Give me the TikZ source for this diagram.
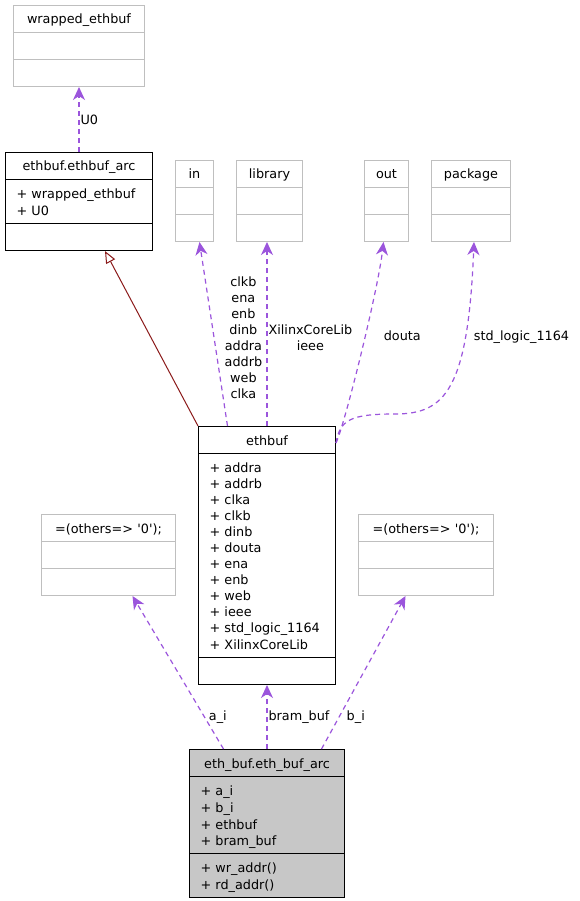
\documentclass[tikz,border=0pt]{standalone}
\usepackage{fontspec}
\setmainfont{DejaVu Sans}
\usetikzlibrary{shapes.multipart,arrows.meta}

\definecolor{deppurple}{RGB}{155,85,220}
\definecolor{inhred}{RGB}{139,26,26}
\newcommand\cstrut{\rule[-3pt]{0pt}{16pt}}
\newcommand\classfont{\fontsize{12.8pt}{16pt}\selectfont}
\newcommand\members{\leftskip=6pt\relax}

\begin{document}
\begin{tikzpicture} [
    x=1pt, y=-1pt,
    classbox/.style = { rectangle split, rectangle split parts=3, draw=black,
                        line width=1pt, fill=white, anchor=north west,
                        inner xsep=5pt, inner ysep=5pt, font=\classfont,
                        text width=#1, align=left },
    extbox/.style   = { classbox=#1, draw=black!25 },
    dep/.style      = { draw=deppurple, line width=1.2pt, dash pattern=on 5pt off 4pt,
                        -{Stealth[length=13pt, width=12pt, inset=4pt]} },
    inherit/.style  = { draw=inhred, line width=1pt,
                        -{Triangle[open, length=12pt, width=10pt, fill=white]} },
    elabel/.style   = { font=\classfont, inner sep=1pt, align=center },
  ]
  \useasboundingbox (0,0) rectangle (579,901);

  % Define the class boxes
  \node[extbox=121pt] (wrapped) at (13,5)
    {\centering\cstrut wrapped\_ethbuf\par\nodepart{second}\cstrut\nodepart{third}\cstrut};
  \node[classbox=137pt] (ethbufarc) at (5,152)
    {\centering\cstrut ethbuf.ethbuf\_arc\par
     \nodepart{second}\members\cstrut+ wrapped\_ethbuf\\ \cstrut+ U0\par
     \nodepart{third}\cstrut};
  \node[extbox=28pt] (in) at (175,160)
    {\centering\cstrut in\par\nodepart{second}\cstrut\nodepart{third}\cstrut};
  \node[extbox=56pt] (library) at (236,160)
    {\centering\cstrut library\par\nodepart{second}\cstrut\nodepart{third}\cstrut};
  \node[extbox=34pt] (out) at (364,160)
    {\centering\cstrut out\par\nodepart{second}\cstrut\nodepart{third}\cstrut};
  \node[extbox=69pt] (package) at (431,160)
    {\centering\cstrut package\par\nodepart{second}\cstrut\nodepart{third}\cstrut};
  \node[classbox=127pt] (ethbuf) at (198,426)
    {\centering\cstrut ethbuf\par
     \nodepart{second}\members\cstrut+ addra\\ \cstrut+ addrb\\ \cstrut+ clka\\
       \cstrut+ clkb\\ \cstrut+ dinb\\ \cstrut+ douta\\ \cstrut+ ena\\ \cstrut+ enb\\
       \cstrut+ web\\ \cstrut+ ieee\\ \cstrut+ std\_logic\_1164\\ \cstrut+ XilinxCoreLib\par
     \nodepart{third}\cstrut};
  \node[extbox=124pt] (othersa) at (41,514)
    {\centering\cstrut =(others=> \textquotesingle0\textquotesingle);\par\nodepart{second}\cstrut\nodepart{third}\cstrut};
  \node[extbox=125pt] (othersb) at (358,514)
    {\centering\cstrut =(others=> \textquotesingle0\textquotesingle);\par\nodepart{second}\cstrut\nodepart{third}\cstrut};
  \node[classbox=145pt, fill=black!22] (main) at (189,749)
    {\centering\cstrut eth\_buf.eth\_buf\_arc\par
     \nodepart{second}\members\cstrut+ a\_i\\ \cstrut+ b\_i\\ \cstrut+ ethbuf\\ \cstrut+ bram\_buf\par
     \nodepart{third}\members\cstrut+ wr\_addr()\\ \cstrut+ rd\_addr()\par};

  % connect the boxes
  \path [dep] (ethbufarc.north) --node[elabel, anchor=west]{U0} (wrapped.south);
  \path [inherit] (ethbuf.north west) -- ([xshift=26pt]ethbufarc.south);
  \path [dep] ([xshift=-39.5pt]ethbuf.north) --node[elabel, pos=0.48, anchor=west, xshift=9pt]
    {clkb\\ena\\enb\\dinb\\addra\\addrb\\web\\clka} ([xshift=5pt]in.south);
  \path [dep] (ethbuf.north) --node[elabel, pos=0.48, anchor=west]
    {XilinxCoreLib\\ieee} (ethbuf.north |- library.south);
  \path [dep] ([yshift=-17pt]ethbuf.north east) .. controls (345,424) and (378,290)
    ..node[elabel, pos=0.57, anchor=west, xshift=17pt]{douta} ([xshift=-3pt]out.south);
  \path [dep] ([yshift=-17pt]ethbuf.north east) .. controls (340,420) and (350,414) .. (395,414)
    .. controls (445,414) and (468,390)
    ..node[elabel, pos=0.73, anchor=west, xshift=7pt]{std\_logic\_1164} ([xshift=3pt]package.south);
  \path [dep] ([xshift=-43.5pt]main.north) --node[elabel, pos=0.21, anchor=west, xshift=3pt]{a\_i} ([xshift=24pt]othersa.south);
  \path [dep] (main.north) --node[elabel, anchor=west]{bram\_buf} (ethbuf.south);
  \path [dep] ([xshift=54.5pt]main.north) --node[elabel, pos=0.21, anchor=west, xshift=6pt]{b\_i} ([xshift=-20.5pt]othersb.south);
\end{tikzpicture}
\end{document}
